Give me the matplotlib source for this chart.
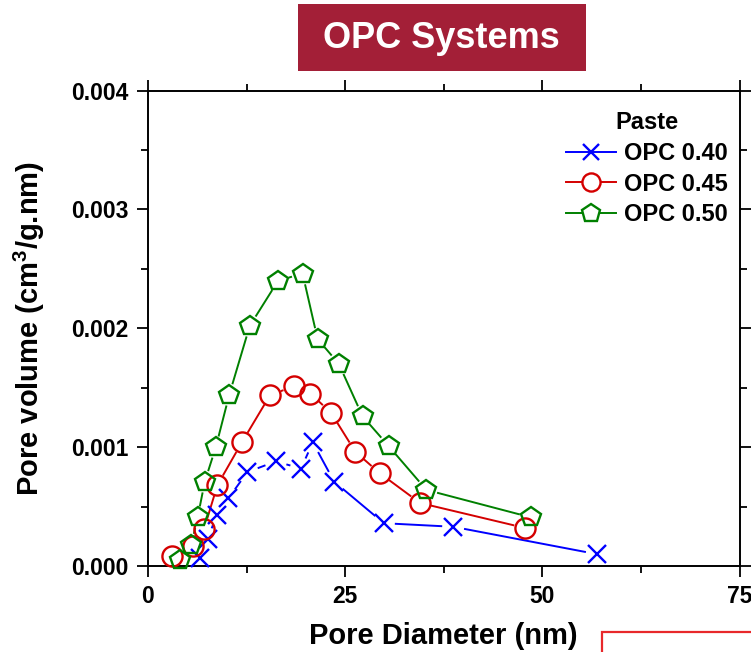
import matplotlib
matplotlib.use("Agg")
import matplotlib.pyplot as plt
import numpy as np
from matplotlib.lines import Line2D
from matplotlib.patches import Rectangle
from matplotlib.ticker import MultipleLocator, FormatStrFormatter

plt.rcParams['font.family'] = ['Liberation Sans', 'DejaVu Sans']
plt.rcParams['font.weight'] = 'bold'
plt.rcParams['mathtext.fontset'] = 'custom'
plt.rcParams['mathtext.rm'] = 'Liberation Sans:bold'

# pore size distribution, OPC pastes at three w/c ratios
d_040 = [6.6, 7.6, 8.7, 10.2, 12.6, 16.2, 19.4, 20.9, 23.6, 29.9, 38.7, 56.9]
v_040 = [0.00007, 0.00023, 0.00043, 0.00057, 0.00079, 0.00088, 0.00082, 0.00104,
         0.00071, 0.00036, 0.00033, 0.00010]

d_045 = [3.0, 5.7, 7.1, 8.8, 11.9, 15.5, 18.5, 20.6, 23.2, 26.3, 29.4, 34.5, 47.8]
v_045 = [0.00008, 0.00017, 0.00031, 0.00068, 0.00104, 0.00144, 0.00151, 0.00145,
         0.00129, 0.00096, 0.00078, 0.00053, 0.00032]

d_050 = [4.0, 5.5, 6.3, 7.2, 8.6, 10.3, 12.9, 16.5, 19.6, 21.5, 24.2, 27.2, 30.5, 35.3, 48.5]
v_050 = [0.00005, 0.00018, 0.00041, 0.00071, 0.00100, 0.00144, 0.00202, 0.00240,
         0.00246, 0.00191, 0.00170, 0.00126, 0.00101, 0.00064, 0.00041]

labels = ["OPC 0.40", "OPC 0.45", "OPC 0.50"]
colors = ["#0000ff", "#d40000", "#008000"]
markers = ["x", "o", "p"]
sizes = [13, 14.5, 15]


def gapped_line(ax, xs, ys, color, gap=12):
    # connect points but leave a small gap around each marker
    pts = ax.transData.transform(np.column_stack([xs, ys]))
    inv = ax.transData.inverted()
    for p, q in zip(pts[:-1], pts[1:]):
        d = q - p
        length = np.hypot(*d)
        if length <= 2 * gap:
            continue
        u = d / length
        seg = inv.transform(np.array([p + u * gap, q - u * gap]))
        ax.plot(seg[:, 0], seg[:, 1], color=color, lw=1.4, zorder=2)


fig = plt.figure(figsize=(7.51, 6.52), dpi=100)
ax = fig.add_axes([148 / 751, 86 / 652, (739.5 - 148) / 751, (566 - 90.5) / 652])

ax.set_xlim(0, 75)
ax.set_ylim(0, 0.004)

series = [(d_040, v_040), (d_045, v_045), (d_050, v_050)]
for (xs, ys), c, m, s in zip(series, colors, markers, sizes):
    gapped_line(ax, xs, ys, c)
    ax.plot(xs, ys, ls="none", marker=m, ms=s, mfc="none", mec=c, mew=1.7, zorder=3,
            clip_on=False)

ax.xaxis.set_major_locator(MultipleLocator(25))
ax.xaxis.set_minor_locator(MultipleLocator(12.5))
ax.yaxis.set_major_locator(MultipleLocator(0.001))
ax.yaxis.set_minor_locator(MultipleLocator(0.0005))
ax.yaxis.set_major_formatter(FormatStrFormatter("%.3f"))
ax.tick_params(which="both", direction="out", top=True, right=True, width=1.3,
               labelsize=16.5, pad=6)
ax.tick_params(which="major", length=8)
ax.tick_params(which="minor", length=5)
for sp in ax.spines.values():
    sp.set_linewidth(1.4)

ax.set_xlabel("Pore Diameter (nm)", fontsize=21, fontweight="bold", labelpad=10)
ax.set_ylabel(r"Pore volume (cm$^\mathrm{3}$/g.nm)", fontsize=21, fontweight="bold")
ax.yaxis.set_label_coords(-0.17, 0.5)

handles = [Line2D([], [], color=c, lw=1.4, marker=m, ms=s * 0.9, mfc="white", mec=c, mew=1.7)
           for c, m, s in zip(colors, markers, sizes)]
leg = ax.legend(handles, labels, title="Paste", loc="upper right",
                bbox_to_anchor=(728 / 751, 1 - 111 / 652), bbox_transform=fig.transFigure,
                frameon=False, fontsize=17, title_fontsize=17, handlelength=2.1,
                handletextpad=0.35, labelspacing=0.33, borderaxespad=0, borderpad=0)
leg.get_title().set_fontweight("bold")

# title banner
fig.patches.append(Rectangle((298 / 751, 1 - 70.7 / 652), 288 / 751, 66.7 / 652,
                             transform=fig.transFigure, facecolor="#a31f37",
                             edgecolor="none", zorder=5))
fig.text(441 / 751, 1 - 38 / 652, "OPC Systems", color="white", fontsize=26,
         fontweight="bold", ha="center", va="center", zorder=6)

# outlined box in the lower right corner
fig.patches.append(Rectangle((602 / 751, -0.2), 0.4, 0.2 + 20.3 / 652,
                             transform=fig.transFigure, facecolor="none",
                             edgecolor="#e8282b", lw=1.6, zorder=5))

fig.savefig("out.png", dpi=100)
